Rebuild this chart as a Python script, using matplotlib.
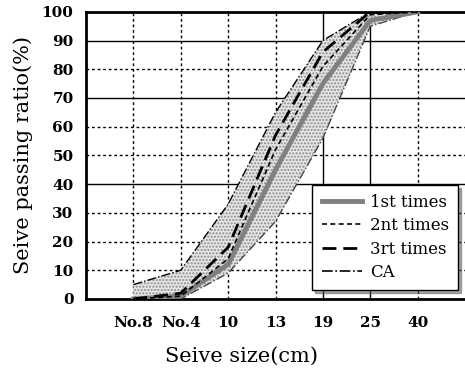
import matplotlib.pyplot as plt
import numpy as np

# sieve sizes and passing ratios (%)
sizes = ['No.8', 'No.4', '10', '13', '19', '25', '40']
first_times = [0, 1, 12, 45, 75, 97, 100]
second_times = [0, 1, 14, 52, 81, 99, 100]
third_times = [0, 2, 18, 57, 86, 100, 100]
ca_upper = [5, 10, 33, 65, 90, 100, 100]
ca_lower = [0, 0, 9, 27, 56, 95, 100]

plt.rcParams['font.family'] = ['DejaVu Serif']

fig = plt.figure(figsize=(4.65, 3.7), dpi=100)
ax = fig.add_axes([0.185, 0.192, 0.815, 0.776])

x = np.arange(1, len(sizes) + 1)

# grid: a few solid reference lines, the rest dotted
for y in range(10, 100, 10):
    if y in (40, 70, 90):
        ax.axhline(y, color='black', lw=1.0, zorder=1)
    else:
        ax.axhline(y, color='black', lw=1.0, ls=(0, (2, 2)), zorder=1)
for i, xi in enumerate(x):
    if sizes[i] in ('19', '25'):
        ax.axvline(xi, color='black', lw=1.0, zorder=1)
    else:
        ax.axvline(xi, color='black', lw=1.0, ls=(0, (2, 2)), zorder=1)

# CA band
ax.fill_between(x, ca_lower, ca_upper, facecolor='#e6e6e6', edgecolor='none', zorder=2)
ax.fill_between(x, ca_lower, ca_upper, facecolor='none', edgecolor='#8a8a8a',
                hatch='.....', linewidth=0, zorder=2)
ax.plot(x, ca_upper, color='black', lw=1.0, ls='-.', zorder=3)
ax.plot(x, ca_lower, color='#444444', lw=1.0, ls='-.', zorder=3)

ax.plot(x, first_times, color='#808080', lw=3.5, zorder=4, label='1st times')
ax.plot(x, second_times, color='black', lw=1.2, ls=(0, (3, 2)), zorder=5, label='2nt times')
ax.plot(x, third_times, color='black', lw=2.0, ls=(0, (5, 2.5)), zorder=5, label='3rt times')
ax.plot([], [], color='black', lw=1.2, ls='-.', label='CA')

ax.set_xlim(0, 8)
ax.set_ylim(0, 100)
ax.set_xticks(x)
ax.set_xticklabels(sizes)
ax.set_yticks(range(0, 101, 10))
ax.tick_params(length=0, labelsize=11)
ax.tick_params(axis='x', pad=12)
ax.tick_params(axis='y', pad=9)
for lab in ax.get_xticklabels() + ax.get_yticklabels():
    lab.set_fontweight('bold')

for side in ('left', 'bottom', 'top'):
    ax.spines[side].set_linewidth(2.0)
ax.spines['right'].set_visible(False)

ax.set_xlabel('Seive size(cm)', fontsize=15)
ax.xaxis.set_label_coords(0.41, -0.165)
ax.set_ylabel('Seive passing ratio(%)', fontsize=15, labelpad=6)

leg = ax.legend(loc='lower right', bbox_to_anchor=(0.982, 0.031), borderaxespad=0,
                fontsize=12, frameon=True, fancybox=False,
                shadow={'color': '#555555', 'ox': 2, 'oy': -2},
                handlelength=2.4, borderpad=0.55, labelspacing=0.38, handletextpad=0.5)
leg.get_frame().set_edgecolor('black')
leg.get_frame().set_linewidth(1.0)
leg.set_zorder(10)

fig.savefig('out.png', dpi=100)
